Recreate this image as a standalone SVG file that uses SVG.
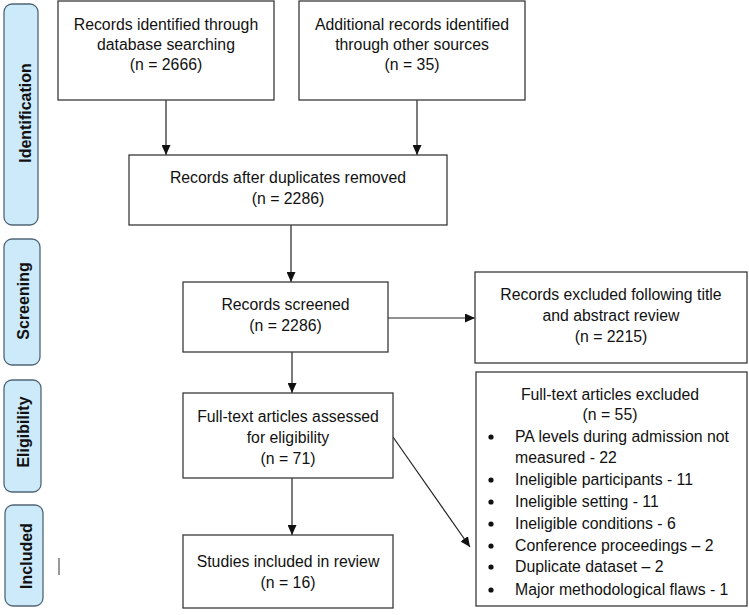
<svg xmlns="http://www.w3.org/2000/svg" width="749" height="615" viewBox="0 0 749 615">
<style>
.box{fill:#fff;stroke:#3a3a3a;stroke-width:1.3}
.tab{fill:#cdeafb;stroke:#4f6675;stroke-width:1.3}
.t{font-family:"Liberation Sans",Arial,sans-serif;font-size:15.8px;fill:#111;text-anchor:middle}
.tl{font-family:"Liberation Sans",Arial,sans-serif;font-size:15.8px;fill:#111}
.tb{font-family:"Liberation Sans",Arial,sans-serif;font-size:16px;font-weight:bold;fill:#111;text-anchor:middle}
.c{stroke:#222;stroke-width:1.2;fill:none;marker-end:url(#ah)}
</style>
<defs>
<marker id="ah" markerUnits="userSpaceOnUse" markerWidth="10" markerHeight="9" refX="10" refY="4.5" orient="auto">
<path d="M0,0 L10,4.5 L0,9 z" fill="#111"/>
</marker>
</defs>
<rect width="749" height="615" fill="#fff"/>
<g id="tab-identification">
<rect class="tab" x="4" y="4" width="34" height="221" rx="8"/>
<text class="tb" transform="translate(31,113) rotate(-90)">Identification</text>
</g>
<g id="tab-screening">
<rect class="tab" x="4" y="239" width="36" height="126" rx="8"/>
<text class="tb" transform="translate(29,301) rotate(-90)">Screening</text>
</g>
<g id="tab-eligibility">
<rect class="tab" x="4" y="380" width="37" height="112" rx="8"/>
<text class="tb" transform="translate(29,432) rotate(-90)">Eligibility</text>
</g>
<g id="tab-included">
<rect class="tab" x="5" y="505" width="38" height="101" rx="8"/>
<text class="tb" transform="translate(32,556) rotate(-90)">Included</text>
</g>
<line x1="59" y1="558" x2="59" y2="575" stroke="#333" stroke-width="1"/>
<g id="connectors">
<line class="c" x1="166" y1="100" x2="166" y2="155"/>
<line class="c" x1="417" y1="100" x2="417" y2="155"/>
<line class="c" x1="291" y1="225" x2="291" y2="282"/>
<line class="c" x1="292" y1="352" x2="292" y2="393"/>
<line class="c" x1="388" y1="318" x2="475" y2="318"/>
<line class="c" x1="292" y1="478" x2="292" y2="535"/>
<line class="c" x1="393" y1="437" x2="470" y2="547"/>
</g>
<g id="n1">
<rect class="box" x="58" y="1" width="216" height="99"/>
<text class="t" x="166" y="30">Records identified through</text>
<text class="t" x="166" y="50">database searching</text>
<text class="t" x="166" y="70">(n = 2666)</text>
</g>
<g id="n2">
<rect class="box" x="299" y="1" width="226" height="99"/>
<text class="t" x="412" y="30">Additional records identified</text>
<text class="t" x="412" y="50">through other sources</text>
<text class="t" x="412" y="70">(n = 35)</text>
</g>
<g id="n3">
<rect class="box" x="129" y="155" width="318" height="70"/>
<text class="t" x="288" y="183">Records after duplicates removed</text>
<text class="t" x="288" y="204">(n = 2286)</text>
</g>
<g id="n4">
<rect class="box" x="183" y="282" width="205" height="70"/>
<text class="t" x="285.5" y="310">Records screened</text>
<text class="t" x="285.5" y="331">(n = 2286)</text>
</g>
<g id="n5">
<rect class="box" x="475" y="272" width="272" height="91"/>
<text class="t" x="611" y="300">Records excluded following title</text>
<text class="t" x="611" y="321">and abstract review</text>
<text class="t" x="611" y="342">(n = 2215)</text>
</g>
<g id="n6">
<rect class="box" x="476" y="372" width="271" height="234"/>
<text class="t" x="610" y="400">Full-text articles excluded</text>
<text class="t" x="610" y="420">(n = 55)</text>
<g fill="#111">
<circle cx="491" cy="437" r="2.6"/>
<circle cx="491" cy="480" r="2.6"/>
<circle cx="491" cy="502" r="2.6"/>
<circle cx="491" cy="524" r="2.6"/>
<circle cx="491" cy="546" r="2.6"/>
<circle cx="491" cy="567" r="2.6"/>
<circle cx="491" cy="590" r="2.6"/>
</g>
<text class="tl" x="515" y="442">PA levels during admission not</text>
<text class="tl" x="515" y="463">measured - 22</text>
<text class="tl" x="515" y="485">Ineligible participants - 11</text>
<text class="tl" x="515" y="507">Ineligible setting - 11</text>
<text class="tl" x="515" y="529">Ineligible conditions - 6</text>
<text class="tl" x="515" y="551">Conference proceedings – 2</text>
<text class="tl" x="515" y="572">Duplicate dataset – 2</text>
<text class="tl" x="515" y="595">Major methodological flaws - 1</text>
</g>
<g id="n7">
<rect class="box" x="183" y="393" width="210" height="85"/>
<text class="t" x="288" y="422">Full-text articles assessed</text>
<text class="t" x="288" y="443">for eligibility</text>
<text class="t" x="288" y="464">(n = 71)</text>
</g>
<g id="n8">
<rect class="box" x="183" y="535" width="210" height="73"/>
<text class="t" x="288" y="567">Studies included in review</text>
<text class="t" x="288" y="588">(n = 16)</text>
</g>
</svg>
